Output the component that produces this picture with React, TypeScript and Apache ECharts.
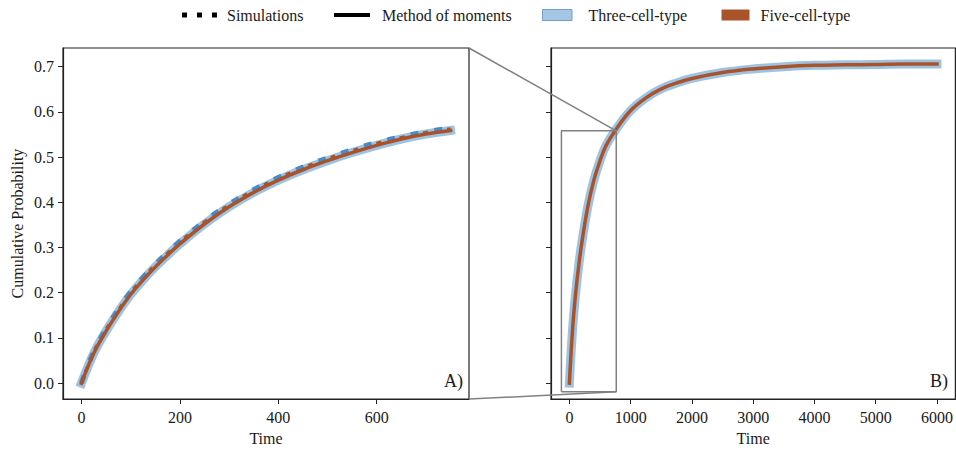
import React, { useEffect, useRef } from "react";
import * as echarts from "echarts";

// ---- Data ----
const timeZoom = [0, 25, 50, 75, 100, 125, 150, 175, 200, 250, 300, 350, 400, 450, 500, 550, 600, 650, 700, 750];
const momentsThreeZoom = [0, 0.066, 0.115, 0.158, 0.196, 0.228, 0.257, 0.283, 0.308, 0.352, 0.39, 0.422, 0.449, 0.472, 0.492, 0.51, 0.526, 0.54, 0.551, 0.559];
const momentsFiveZoom = [0, 0.066, 0.115, 0.158, 0.196, 0.228, 0.257, 0.283, 0.308, 0.352, 0.39, 0.422, 0.449, 0.472, 0.492, 0.51, 0.526, 0.54, 0.551, 0.559];
const simThreeZoom = [0, 0.07, 0.12, 0.163, 0.202, 0.234, 0.263, 0.289, 0.314, 0.358, 0.396, 0.428, 0.455, 0.478, 0.498, 0.516, 0.532, 0.545, 0.556, 0.564];
const simFiveZoom = [0, 0.069, 0.118, 0.161, 0.2, 0.232, 0.261, 0.287, 0.312, 0.356, 0.394, 0.426, 0.453, 0.476, 0.496, 0.514, 0.53, 0.543, 0.554, 0.562];

const timeFull = [0, 50, 100, 150, 200, 300, 400, 500, 600, 750, 1000, 1250, 1500, 1750, 2000, 2500, 3000, 3500, 4000, 4500, 5000, 5500, 6000];
const momentsThreeFull = [0, 0.115, 0.196, 0.257, 0.308, 0.39, 0.449, 0.492, 0.526, 0.559, 0.603, 0.631, 0.651, 0.664, 0.674, 0.687, 0.695, 0.7, 0.703, 0.704, 0.705, 0.706, 0.706];
const momentsFiveFull = [0, 0.115, 0.196, 0.257, 0.308, 0.39, 0.449, 0.492, 0.526, 0.559, 0.603, 0.631, 0.651, 0.664, 0.674, 0.687, 0.695, 0.7, 0.703, 0.704, 0.705, 0.706, 0.706];

// inset rectangle drawn in panel B (data units)
const insetX = [-130, 765];
const insetY = [-0.019, 0.558];

// axis ranges and ticks
const yRange = [-0.0353, 0.7413];
const xRangeA = [-37.5, 787.5];
const xRangeB = [-300, 6300];
const yTicks = [0, 0.1, 0.2, 0.3, 0.4, 0.5, 0.6, 0.7];
const xTicksA = [0, 200, 400, 600];
const xTicksB = [0, 1000, 2000, 3000, 4000, 5000, 6000];

const legendLabels = ["Simulations", "Method of moments", "Three-cell-type", "Five-cell-type"];
const panelLabels = ["A)", "B)"];

const FONT = "Liberation Serif";
const TXT = "#1a1a1a";
const AX = "#222";
const BLUE_BAND = "#9dc3e3";
const BLUE_SIM = "#4a8bc7";
const BROWN = "#a9532b";
const GRAY = "#808080";

const zip = (xs: number[], ys: number[]) => xs.map((x, i) => [x, ys[i]]);

function xAxisCfg(gridIndex: number, range: number[], ticks: number[]) {
  return {
    type: "value",
    gridIndex,
    min: range[0],
    max: range[1],
    name: "Time",
    nameLocation: "middle",
    nameGap: 30,
    nameTextStyle: { fontFamily: FONT, fontSize: 16, color: TXT },
    axisLine: { show: true, onZero: false, lineStyle: { color: AX, width: 1.2 } },
    axisTick: { show: true, length: 5, lineStyle: { color: AX, width: 1 }, customValues: ticks },
    axisLabel: { show: true, margin: 10, fontFamily: FONT, fontSize: 16, color: TXT, customValues: ticks, formatter: (v: number) => String(Math.round(v)) },
    splitLine: { show: false },
  };
}

function yAxisCfg(gridIndex: number, showLabels: boolean) {
  return {
    type: "value",
    gridIndex,
    min: yRange[0],
    max: yRange[1],
    name: showLabels ? "Cumulative Probability" : "",
    nameLocation: "middle",
    nameGap: 38,
    nameTextStyle: { fontFamily: FONT, fontSize: 16, color: TXT },
    axisLine: { show: true, onZero: false, lineStyle: { color: AX, width: 1.2 } },
    axisTick: { show: true, length: 5, lineStyle: { color: AX, width: 1 }, customValues: yTicks },
    axisLabel: { show: showLabels, margin: 9, fontFamily: FONT, fontSize: 16, color: TXT, customValues: yTicks, formatter: (v: number) => v.toFixed(1) },
    splitLine: { show: false },
  };
}

function solid(name: string, gi: number, data: number[][], color: string, width: number, z: number) {
  return {
    type: "line",
    name,
    xAxisIndex: gi,
    yAxisIndex: gi,
    data,
    smooth: 0.4,
    showSymbol: false,
    symbol: "none",
    lineStyle: { color, width, cap: "square" },
    z,
    silent: true,
  };
}

function dashed(name: string, gi: number, data: number[][], color: string, width: number, pattern: number[], offset: number, z: number) {
  return {
    type: "line",
    name,
    xAxisIndex: gi,
    yAxisIndex: gi,
    data,
    smooth: 0.4,
    showSymbol: false,
    symbol: "none",
    lineStyle: { color, width, type: pattern, dashOffset: offset, cap: "butt" },
    z,
    silent: true,
  };
}

export default function App() {
  const ref = useRef<HTMLDivElement>(null);

  useEffect(() => {
    if (!ref.current) return;
    const chart = echarts.init(ref.current, undefined, { renderer: "svg" });

    const insetBox = [
      [insetX[0], insetY[0]],
      [insetX[1], insetY[0]],
      [insetX[1], insetY[1]],
      [insetX[0], insetY[1]],
      [insetX[0], insetY[0]],
    ];

    chart.setOption({
      animation: false,
      backgroundColor: "#ffffff",
      grid: [
        { left: 63, top: 48, width: 406, height: 356, show: true, borderColor: AX, borderWidth: 1.2, backgroundColor: "transparent", containLabel: false },
        { left: 551, top: 48, width: 406, height: 356, show: true, borderColor: AX, borderWidth: 1.2, backgroundColor: "transparent", containLabel: false },
      ],
      xAxis: [xAxisCfg(0, xRangeA, xTicksA), xAxisCfg(1, xRangeB, xTicksB)],
      yAxis: [yAxisCfg(0, true), yAxisCfg(1, false)],
      series: [
        solid("Three-cell-type moments A", 0, zip(timeZoom, momentsThreeZoom), BLUE_BAND, 9, 2),
        dashed("Three-cell-type simulations A", 0, zip(timeZoom, simThreeZoom), BLUE_SIM, 5, [8, 16], 0, 3),
        solid("Five-cell-type moments A", 0, zip(timeZoom, momentsFiveZoom), BROWN, 3.5, 4),
        dashed("Five-cell-type simulations A", 0, zip(timeZoom, simFiveZoom), BROWN, 3.5, [5, 19], -12, 5),
        solid("Three-cell-type moments B", 1, zip(timeFull, momentsThreeFull), BLUE_BAND, 9, 2),
        solid("Five-cell-type moments B", 1, zip(timeFull, momentsFiveFull), BROWN, 3.5, 4),
        {
          type: "line",
          name: "inset",
          xAxisIndex: 1,
          yAxisIndex: 1,
          data: insetBox,
          showSymbol: false,
          symbol: "none",
          lineStyle: { color: GRAY, width: 1.5 },
          z: 6,
          silent: true,
        },
      ],
    });

    const aTR = chart.convertToPixel({ gridIndex: 0 }, [xRangeA[1], yRange[1]]) as number[];
    const aBR = chart.convertToPixel({ gridIndex: 0 }, [xRangeA[1], yRange[0]]) as number[];
    const bTR = chart.convertToPixel({ gridIndex: 1 }, [insetX[1], insetY[1]]) as number[];
    const bBR = chart.convertToPixel({ gridIndex: 1 }, [insetX[1], insetY[0]]) as number[];

    const legendFont = { fontFamily: FONT, fontSize: 16, fill: TXT, verticalAlign: "middle" };
    const ly = 15;

    chart.setOption({
      graphic: [
        { type: "line", silent: true, z: 10, shape: { x1: aTR[0], y1: aTR[1], x2: bTR[0], y2: bTR[1] }, style: { stroke: GRAY, lineWidth: 1.5 } },
        { type: "line", silent: true, z: 10, shape: { x1: aBR[0], y1: aBR[1], x2: bBR[0], y2: bBR[1] }, style: { stroke: GRAY, lineWidth: 1.5 } },
        // legend
        { type: "rect", silent: true, shape: { x: 182, y: ly - 2.5, width: 5, height: 5 }, style: { fill: "#000" } },
        { type: "rect", silent: true, shape: { x: 197, y: ly - 2.5, width: 5, height: 5 }, style: { fill: "#000" } },
        { type: "rect", silent: true, shape: { x: 212, y: ly - 2.5, width: 5, height: 5 }, style: { fill: "#000" } },
        { type: "text", silent: true, x: 227, y: ly, style: { text: legendLabels[0], ...legendFont } },
        { type: "rect", silent: true, shape: { x: 334, y: ly - 2, width: 36, height: 4 }, style: { fill: "#000" } },
        { type: "text", silent: true, x: 382, y: ly, style: { text: legendLabels[1], ...legendFont } },
        { type: "rect", silent: true, shape: { x: 542.5, y: ly - 5.5, width: 29.5, height: 11 }, style: { fill: "#a5c7e3", stroke: "#6f9fcf", lineWidth: 1 } },
        { type: "text", silent: true, x: 588.5, y: ly, style: { text: legendLabels[2], ...legendFont } },
        { type: "rect", silent: true, shape: { x: 721.5, y: ly - 5.5, width: 28, height: 11 }, style: { fill: BROWN } },
        { type: "text", silent: true, x: 760.5, y: ly, style: { text: legendLabels[3], ...legendFont } },
        // panel labels
        { type: "text", silent: true, x: 463, y: 381, style: { text: panelLabels[0], fontFamily: FONT, fontSize: 18, fill: TXT, align: "right", verticalAlign: "middle" } },
        { type: "text", silent: true, x: 948, y: 381, style: { text: panelLabels[1], fontFamily: FONT, fontSize: 18, fill: TXT, align: "right", verticalAlign: "middle" } },
      ],
    });

    return () => chart.dispose();
  }, []);

  return <div ref={ref} style={{ position: "fixed", left: 0, top: 0, width: 956, height: 451 }} />;
}
